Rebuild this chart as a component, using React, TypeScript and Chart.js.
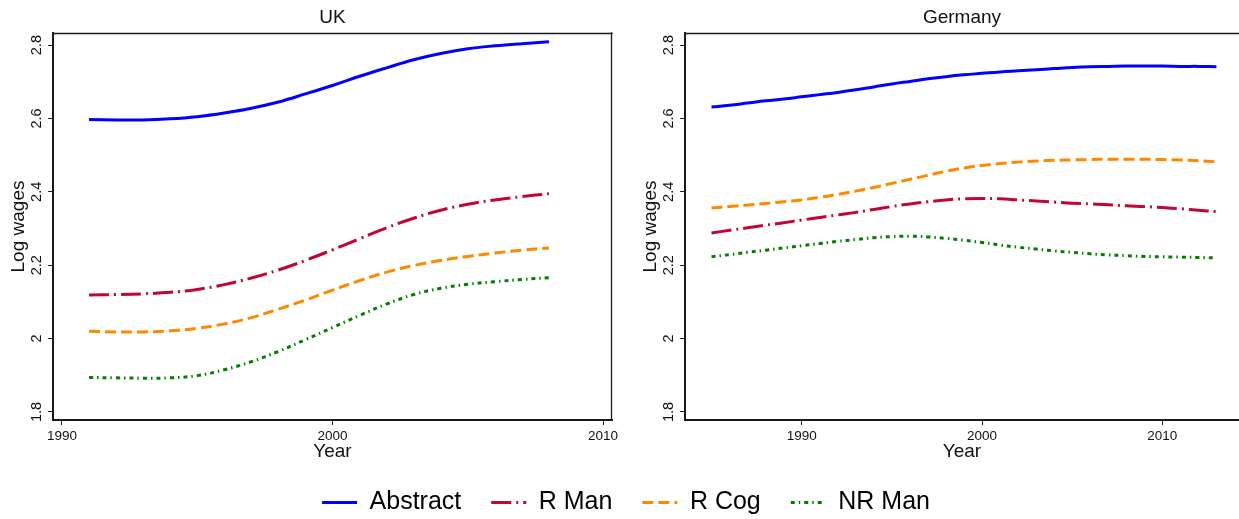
import React, { useEffect, useRef } from "react";
import { Chart, registerables } from "chart.js";

Chart.register(...registerables);

const FONT = "'Liberation Sans', Arial, Helvetica, sans-serif";

// ---------- data ----------
const ukYears = [1991, 1992, 1993, 1994, 1995, 1996, 1997, 1998, 1999, 2000, 2001, 2002, 2003, 2004, 2005, 2006, 2007, 2008];
const ukAbstract = [2.597, 2.596, 2.596, 2.599, 2.605, 2.615, 2.628, 2.645, 2.667, 2.69, 2.715, 2.738, 2.76, 2.777, 2.79, 2.798, 2.804, 2.809];
const ukRMan = [2.119, 2.12, 2.122, 2.126, 2.134, 2.147, 2.165, 2.187, 2.213, 2.242, 2.272, 2.302, 2.328, 2.35, 2.366, 2.378, 2.387, 2.395];
const ukRCog = [2.02, 2.018, 2.018, 2.021, 2.028, 2.04, 2.057, 2.08, 2.105, 2.132, 2.158, 2.181, 2.199, 2.213, 2.224, 2.233, 2.241, 2.247];
const ukNRMan = [1.894, 1.893, 1.892, 1.893, 1.899, 1.915, 1.937, 1.965, 1.997, 2.03, 2.063, 2.094, 2.12, 2.137, 2.148, 2.155, 2.161, 2.166];

const deYears = [1985, 1986, 1987, 1988, 1989, 1990, 1991, 1992, 1993, 1994, 1995, 1996, 1997, 1998, 1999, 2000, 2001, 2002, 2003, 2004, 2005, 2006, 2007, 2008, 2009, 2010, 2011, 2012, 2013];
const deAbstract = [2.631, 2.636, 2.642, 2.648, 2.653, 2.659, 2.665, 2.671, 2.678, 2.686, 2.694, 2.701, 2.708, 2.714, 2.719, 2.723, 2.727, 2.73, 2.733, 2.736, 2.739, 2.741, 2.742, 2.743, 2.743, 2.743, 2.742, 2.742, 2.741];
const deRMan = [2.288, 2.295, 2.302, 2.309, 2.316, 2.323, 2.33, 2.337, 2.344, 2.352, 2.36, 2.367, 2.373, 2.378, 2.381, 2.382, 2.381, 2.378, 2.375, 2.372, 2.369, 2.367, 2.365, 2.362, 2.36, 2.357, 2.354, 2.35, 2.346];
const deRCog = [2.356, 2.36, 2.364, 2.368, 2.373, 2.378, 2.385, 2.393, 2.402, 2.412, 2.423, 2.434, 2.445, 2.456, 2.465, 2.472, 2.477, 2.481, 2.484, 2.486, 2.487, 2.488, 2.489, 2.489, 2.489, 2.488, 2.487, 2.485, 2.482];
const deNRMan = [2.223, 2.229, 2.235, 2.241, 2.247, 2.253, 2.259, 2.265, 2.27, 2.275, 2.278, 2.279, 2.277, 2.273, 2.268, 2.262, 2.255, 2.249, 2.244, 2.239, 2.235, 2.231, 2.228, 2.226, 2.224, 2.223, 2.222, 2.221, 2.22];

const seriesNames = ["Abstract", "R Man", "R Cog", "NR Man"];
const seriesColors = ["#0000FF", "#C10534", "#FF8800", "#007F00"];
const seriesDash: number[][] = [[], [20, 5, 2, 5], [11, 5], [4, 4, 1.5, 4]];

const yTicks = [1.8, 2, 2.2, 2.4, 2.6, 2.8];
const xTicks = [1990, 2000, 2010];
const yMin = 1.778;
const yMax = 2.833;
const ukXMin = 1989.67;
const ukXMax = 2010.33;
const deXMin = 1983.53;
const deXMax = 2014.25;

const framePlugin = {
  id: "frame",
  afterDatasetsDraw(chart: any, _args: any, opts: any) {
    const { ctx, chartArea } = chart;
    const { left, right, top, bottom } = chartArea;
    ctx.save();
    ctx.strokeStyle = "#1a1a1a";
    ctx.lineCap = "square";
    ctx.lineWidth = 1.3;
    ctx.beginPath();
    ctx.moveTo(left, top + 0.5);
    ctx.lineTo(right, top + 0.5);
    ctx.stroke();
    if (opts && opts.right) {
      ctx.beginPath();
      ctx.moveTo(right - 0.5, top);
      ctx.lineTo(right - 0.5, bottom);
      ctx.stroke();
    }
    ctx.lineWidth = 2;
    ctx.beginPath();
    ctx.moveTo(left, top);
    ctx.lineTo(left, bottom);
    ctx.lineTo(right, bottom);
    ctx.stroke();
    ctx.restore();
  },
};

function makeDatasets(years: number[], series: number[][]) {
  return series.map((vals, i) => ({
    label: seriesNames[i],
    data: years.map((yr, j) => ({ x: yr, y: vals[j] })),
    borderColor: seriesColors[i],
    backgroundColor: seriesColors[i],
    borderWidth: 3,
    borderDash: seriesDash[i],
    pointRadius: 0,
    tension: 0.4,
    fill: false,
  }));
}

function Panel(props: {
  title: string;
  years: number[];
  series: number[][];
  xMin: number;
  xMax: number;
  left: number;
  width: number;
  padLeft: number;
  padRight: number;
  rightBorder: boolean;
}) {
  const ref = useRef<HTMLCanvasElement | null>(null);
  useEffect(() => {
    if (!ref.current) return;
    const chart = new Chart(ref.current, {
      type: "line",
      data: { datasets: makeDatasets(props.years, props.series) as any },
      plugins: [framePlugin],
      options: {
        responsive: false,
        animation: false,
        events: [],
        layout: { padding: { left: props.padLeft, right: props.padRight, top: 0, bottom: 0 } },
        plugins: {
          legend: { display: false },
          tooltip: { enabled: false },
          title: {
            display: true,
            text: props.title,
            fullSize: false,
            color: "#111",
            font: { family: FONT, size: 19, weight: "normal" },
            padding: { top: 6.6, bottom: 3.6 },
          },
          frame: { right: props.rightBorder },
        } as any,
        scales: {
          x: {
            type: "linear",
            min: props.xMin,
            max: props.xMax,
            afterBuildTicks: (scale: any) => {
              scale.ticks = xTicks.map((v) => ({ value: v }));
            },
            afterFit: (scale: any) => {
              scale.height = 50;
              scale.paddingLeft = 0;
              scale.paddingRight = 0;
            },
            ticks: {
              autoSkip: false,
              maxRotation: 0,
              minRotation: 0,
              padding: 3.5,
              color: "#111",
              font: { family: FONT, size: 13.5 },
              callback: (v: any) => String(v),
            },
            grid: {
              display: true,
              drawOnChartArea: false,
              drawTicks: true,
              tickLength: 5,
              tickWidth: 1,
              color: "#222",
            },
            border: { display: false },
            title: {
              display: true,
              text: "Year",
              color: "#111",
              font: { family: FONT, size: 19 },
              padding: { top: 0, bottom: 7 },
            },
          },
          y: {
            type: "linear",
            min: yMin,
            max: yMax,
            afterBuildTicks: (scale: any) => {
              scale.ticks = yTicks.map((v) => ({ value: v }));
            },
            afterFit: (scale: any) => {
              scale.width = 53;
            },
            ticks: {
              autoSkip: false,
              minRotation: 90,
              maxRotation: 90,
              crossAlign: "center",
              padding: 1,
              color: "#111",
              font: { family: FONT, size: 14.5 },
              callback: (v: any) => String(Math.round(Number(v) * 10) / 10),
            },
            grid: {
              display: true,
              drawOnChartArea: false,
              drawTicks: true,
              tickLength: 5,
              tickWidth: 1,
              color: "#222",
            },
            border: { display: false },
            title: {
              display: true,
              text: "Log wages",
              color: "#111",
              font: { family: FONT, size: 19 },
              padding: { top: 7, bottom: 0 },
            },
          },
        },
      } as any,
    });
    return () => chart.destroy();
  }, []);
  return (
    <canvas
      ref={ref}
      width={props.width}
      height={470}
      style={{ position: "absolute", left: props.left, top: 0, display: "block" }}
    />
  );
}

function Legend() {
  const ref = useRef<HTMLCanvasElement | null>(null);
  useEffect(() => {
    if (!ref.current) return;
    const chart = new Chart(ref.current, {
      type: "line",
      data: {
        datasets: seriesNames.map((n, i) => ({
          label: n,
          data: [],
          borderColor: seriesColors[i],
          backgroundColor: seriesColors[i],
          borderWidth: 3,
          borderDash: seriesDash[i],
        })),
      },
      options: {
        responsive: false,
        animation: false,
        events: [],
        layout: { padding: { left: 13, right: 0, top: 0, bottom: 0 } },
        scales: { x: { display: false }, y: { display: false } },
        plugins: {
          tooltip: { enabled: false },
          title: { display: false },
          legend: {
            display: true,
            position: "top",
            labels: {
              usePointStyle: true,
              pointStyle: "line",
              pointStyleWidth: 35,
              padding: 30,
              color: "#000",
              font: { family: FONT, size: 25 },
              generateLabels: (c: any) => {
                const items = (Chart as any).defaults.plugins.legend.labels.generateLabels(c);
                return items.map((it: any, i: number) => ({
                  ...it,
                  lineDash: seriesDash[i],
                  lineWidth: 3,
                  strokeStyle: seriesColors[i],
                  fillStyle: seriesColors[i],
                  lineCap: "butt",
                  pointStyle: "line",
                }));
              },
            },
          },
        },
      } as any,
    });
    return () => chart.destroy();
  }, []);
  return (
    <canvas
      ref={ref}
      width={1239}
      height={110}
      style={{ position: "absolute", left: 0, top: 460, display: "block" }}
    />
  );
}

export default function App() {
  return (
    <div
      style={{
        position: "fixed",
        left: 0,
        top: 0,
        width: 1239,
        height: 519,
        overflow: "hidden",
        background: "#fff",
      }}
    >
      <Panel
        title="UK"
        years={ukYears}
        series={[ukAbstract, ukRMan, ukRCog, ukNRMan]}
        xMin={ukXMin}
        xMax={ukXMax}
        left={0}
        width={620}
        padLeft={0}
        padRight={8}
        rightBorder={true}
      />
      <Panel
        title="Germany"
        years={deYears}
        series={[deAbstract, deRMan, deRCog, deNRMan]}
        xMin={deXMin}
        xMax={deXMax}
        left={620}
        width={619}
        padLeft={12}
        padRight={0}
        rightBorder={false}
      />
      <Legend />
    </div>
  );
}
